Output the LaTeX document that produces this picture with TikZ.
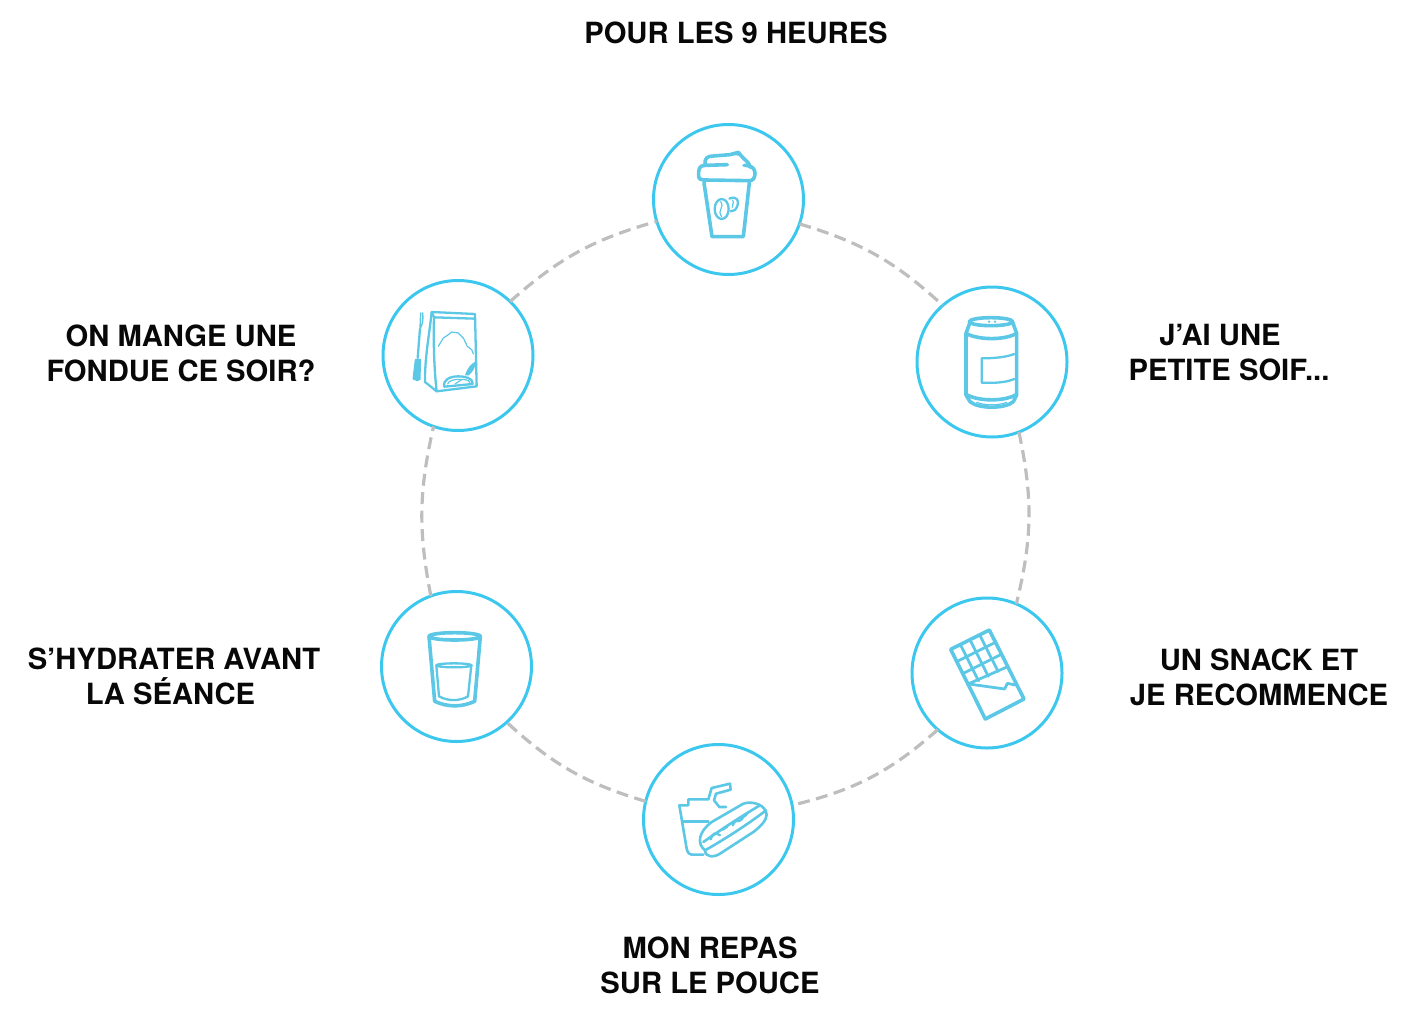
\documentclass[tikz,border=0pt]{standalone}
\usepackage{fontspec}
\setmainfont{TeX Gyre Heros}
\definecolor{ringblue}{HTML}{3CC8EE}
\definecolor{iconblue}{HTML}{5CC8E6}
\definecolor{dashgray}{HTML}{BEBEBE}
\tikzset{
  stage/.style={circle,draw=ringblue,line width=3pt,minimum size=150pt,inner sep=0pt,outer sep=0pt},
  ringarc/.style={draw=dashgray,line width=3.2pt,dash pattern=on 12pt off 6.5pt},
  caption/.style={font=\fontsize{29.2}{35}\selectfont\bfseries,align=center,text=black!97,inner sep=0pt},
  icon/.style={draw=iconblue,line width=3.6pt,line join=round,line cap=round},
  thinicon/.style={draw=iconblue,line width=2.3pt,line join=round,line cap=round},
  hairicon/.style={draw=iconblue,line width=1.2pt,line join=round,line cap=round},
  zoomed/.style={shift={#1},x=.33333pt,y=-.33333pt}
}
\begin{document}
\begin{tikzpicture}[x=1pt,y=-1pt]
\useasboundingbox (0,0) rectangle (1416,1009);
\node[stage] (cup) at (728.5,199.5) {};
\node[stage] (can) at (992,362) {};
\node[stage] (choc) at (987,673) {};
\node[stage] (dog) at (718.5,819.5) {};
\node[stage] (glass) at (456.5,666.5) {};
\node[stage] (bag) at (458,355.5) {};
\draw[ringarc] (cup.-19) to[bend left=13] (can.131);
\draw[ringarc] (can.-69) to[bend left=13] (choc.67);
\draw[ringarc] (choc.-131) to[bend left=14] (dog.11);
\draw[ringarc] (dog.166) to[bend left=13] (glass.-48);
\draw[ringarc] (glass.110) to[bend left=12] (bag.-109);
\draw[ringarc] (bag.46) to[bend left=13] (cup.197);
% captions
\node[caption] (t1) at (736,33) {POUR LES 9 HEURES};
\node[caption] (t2) at (1229,352.5) {\hspace*{-18pt}J’AI UNE\\PETITE SOIF...};
\node[caption] (t3) at (1259,677.5) {UN SNACK ET\\JE RECOMMENCE};
\node[caption] (t4) at (710,965.5) {MON REPAS\\SUR LE POUCE};
\node[caption] (t5) at (174,676.5) {S’HYDRATER AVANT\\\hspace*{-7pt}LA SÉANCE};
\node[caption] (t6) at (181,353.5) {ON MANGE UNE\\FONDUE CE SOIR?};
% coffee cup
\begin{scope}[zoomed={(650,120)}]
\draw[icon] (162,188) -- (186,350) -- (280,350) -- (298,188);
\draw[icon] (165,180) -- (160,180) .. controls (145,178) and (145,172) .. (146,155) .. controls (147,140) and (155,136) .. (168,136) -- (232,134) (282,136) .. controls (305,136) and (315,145) .. (315,160) .. controls (315,175) and (308,182) .. (298,182) -- (165,180);
\draw[icon] (165,134) .. controls (163,115) and (172,108) .. (190,108) -- (240,104) -- (265,97) -- (274,108) .. controls (285,122) and (298,125) .. (300,142);
\fill[iconblue] (240,104) -- (265,93) -- (274,108) -- cycle;
\draw[thinicon] (215,267) ellipse [x radius=21,y radius=30];
\draw[hairicon] (212,245) .. controls (225,262) and (200,270) .. (215,290);
\draw[thinicon] (238,236) .. controls (262,225) and (268,245) .. (262,258) .. controls (258,270) and (250,274) .. (242,274);
\draw[hairicon] (248,240) .. controls (254,250) and (244,255) .. (247,262);
\end{scope}
% can
\begin{scope}[zoomed={(915,285)}]
\draw[icon] (228,110) ellipse [x radius=65,y radius=12];
\draw[icon] (165,112) -- (153,145) -- (153,330) -- (165,350) .. controls (190,372) and (270,372) .. (295,350) -- (305,330) -- (305,145) -- (293,112);
\draw[icon] (153,145) .. controls (190,166) and (270,166) .. (305,145);
\draw[icon] (153,328) .. controls (190,350) and (270,350) .. (305,328);
\draw[hairicon] (185,352) .. controls (210,362) and (250,362) .. (275,352);
\draw[thinicon] (298,207) .. controls (275,216) and (240,220) .. (200,220) -- (200,293) .. controls (240,295) and (275,292) .. (298,282);
\fill[iconblue] (222,110) circle (4) (240,110) circle (4);
\end{scope}
% bag and fork
\begin{scope}[zoomed={(380,278)}]
\draw[thinicon] (155,102) -- (285,108) -- (290,325) -- (170,340) -- (135,312) .. controls (134,240) and (148,170) .. (155,102);
\draw[thinicon] (155,102) -- (162,118) -- (285,122);
\draw[thinicon] (162,118) .. controls (160,190) and (162,270) .. (170,340);
\draw[hairicon] (175,205) -- (190,180) -- (205,170) -- (215,162) -- (235,165) -- (250,180) -- (262,205) -- (275,215) -- (280,228);
\draw[thinicon] (193,326) .. controls (188,305) and (210,295) .. (235,295) .. controls (255,295) and (278,300) .. (278,316);
\draw[thinicon] (193,326) -- (278,318);
\draw[hairicon] (203,318) .. controls (205,308) and (222,304) .. (238,304) .. controls (255,304) and (268,306) .. (270,314);
\draw[hairicon] (225,318) -- (245,305);
\fill[iconblue] (255,292) .. controls (262,270) and (272,258) .. (287,250) .. controls (288,268) and (278,282) .. (266,292) -- cycle;
\fill[iconblue,draw=iconblue,line join=round,line width=1pt] (106,244) -- (99,303) -- (112,308) -- (120,304) -- (122,244) -- cycle;
\draw[thinicon] (113,240) -- (120,152);
\draw[thinicon,line width=1.4pt] (120,152) -- (122,105) (120,152) .. controls (128,140) and (130,125) .. (128,105);
\end{scope}
% glass
\begin{scope}[zoomed={(378,588)}]
\draw[icon] (230,145) ellipse [x radius=77,y radius=11];
\draw[icon] (153,145) -- (170,340) .. controls (210,358) and (250,358) .. (290,340) -- (307,145);
\draw[thinicon] (175,232) -- (183,325) .. controls (210,340) and (245,340) .. (270,325) -- (280,232);
\draw[thinicon] (228,232) ellipse [x radius=53,y radius=6];
\end{scope}
% chocolate
\begin{scope}[zoomed={(908,595)}]
\draw[icon] (128,163) -- (244,105) -- (348,312) -- (232,372) -- cycle;
\draw[thinicon,line width=2.8pt] (157,148) -- (212,258) (186,134) -- (241,244) (215,119.5) -- (270,229);
\draw[thinicon,line width=2.8pt] (146,200) -- (262,142) (164,236) -- (280,178) (178,268) -- (299,215);
\draw[thinicon,line width=2.8pt] (190,268) -- (290,282) -- (298,265) -- (322,270);
\end{scope}
% drink and hot dog
\begin{scope}[zoomed={(640,742)}]
\draw[thinicon,line width=2.6pt] (118,190) -- (145,190) -- (145,172) -- (205,172) -- (215,138) -- (270,125) -- (272,143) -- (228,155) -- (222,175) -- (238,195) -- (258,195);
\draw[thinicon,line width=2.6pt] (118,190) -- (140,320) .. controls (143,335) and (150,338) .. (160,338) -- (190,338);
\draw[thinicon,line width=2.6pt] (128,238) -- (205,238);
\draw[thinicon,line width=2.6pt,fill=white] (195,325) .. controls (170,305) and (175,270) .. (215,240) -- (310,185) .. controls (340,175) and (378,190) .. (380,218) .. controls (380,235) and (360,255) .. (340,270) -- (240,335) .. controls (220,348) and (195,345) .. (195,325) -- cycle;
\draw[thinicon,line width=2.6pt] (195,325) .. controls (240,300) and (320,250) .. (378,205);
\draw[thinicon,line width=2.6pt] (190,300) .. controls (240,265) and (300,225) .. (360,190);
\draw[thinicon] (212,292) .. controls (222,265) and (228,275) .. (240,280) (248,263) -- (262,254) (278,250) .. controls (290,225) and (295,245) .. (305,232) .. controls (310,220) and (318,225) .. (322,212);
\end{scope}
\end{tikzpicture}
\end{document}
